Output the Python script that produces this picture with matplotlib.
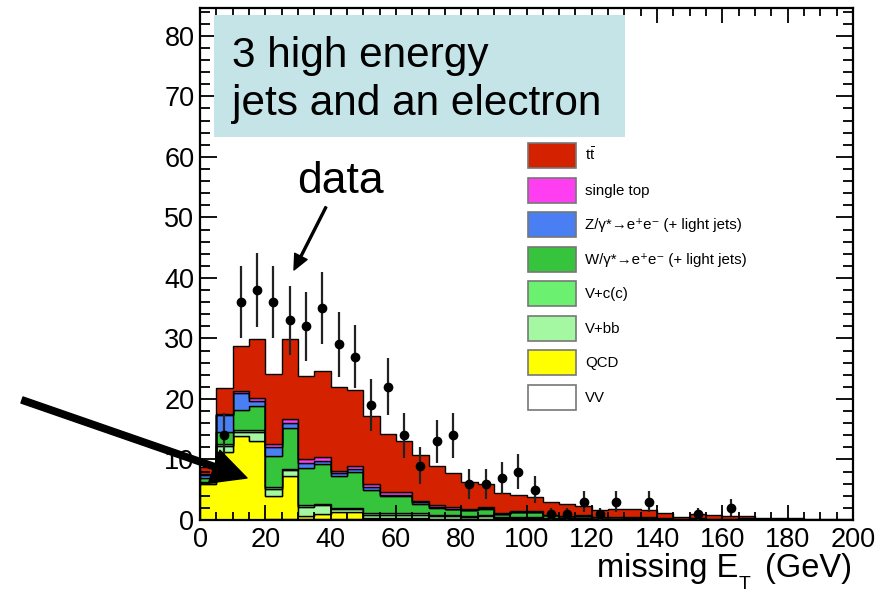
import numpy as np
import matplotlib
matplotlib.use("Agg")
import matplotlib.pyplot as plt
from matplotlib.patches import Patch, Rectangle, FancyArrowPatch, ArrowStyle
from matplotlib.ticker import MultipleLocator

plt.rcParams['font.family'] = ['Liberation Sans', 'DejaVu Sans']
plt.rcParams['mathtext.fontset'] = 'custom'
plt.rcParams['mathtext.rm'] = 'Liberation Sans'
plt.rcParams['mathtext.it'] = 'Liberation Sans:italic'

# missing E_T in 5 GeV bins from 0 to 200
bin_edges = np.arange(0, 205, 5)

# expected events per bin for each sample
vv = [0, 0, 0, 0, 0.1, 0.1, 0.2, 0.2, 0.2, 0.2,
      0.2, 0.2, 0.2, 0.1, 0.1, 0.1, 0.1, 0.1, 0.05, 0.05,
      0.05, 0, 0, 0, 0, 0, 0, 0, 0, 0,
      0, 0, 0, 0, 0, 0, 0, 0, 0, 0]
qcd = [6.0, 11.2, 13.8, 13.0, 3.9, 7.2, 0.4, 0.8, 1.1, 1.1,
       0.1, 0.1, 0.1, 0.3, 0, 0, 0, 0, 0, 0,
       0, 0, 0, 0, 0, 0, 0, 0, 0, 0,
       0, 0, 0, 0, 0, 0, 0, 0, 0, 0]
v_bb = [0.2, 1.0, 0.7, 1.5, 1.2, 1.0, 1.5, 1.5, 0.5, 0.5,
        0.6, 0.5, 0.6, 0.5, 0.5, 0.5, 0.4, 0.6, 0.3, 0.3,
        0.3, 0.2, 0.2, 0.2, 0.1, 0.1, 0.1, 0.1, 0.05, 0.05,
        0.05, 0.05, 0, 0, 0, 0, 0, 0, 0, 0]
v_cc = [0.1, 0.4, 0.3, 0.3, 0.3, 0.2, 0.3, 0.2, 0.2, 0.2,
        0.3, 0.3, 0.3, 0.2, 0.2, 0.2, 0.1, 0.1, 0.1, 0.1,
        0.1, 0.1, 0.05, 0.05, 0.05, 0.05, 0, 0, 0, 0,
        0, 0, 0, 0, 0, 0, 0, 0, 0, 0]
w_jets = [0.6, 1.9, 3.4, 4.0, 5.0, 6.7, 6.2, 6.5, 5.3, 6.0,
          3.8, 2.8, 2.7, 1.6, 1.2, 1.0, 1.0, 1.1, 0.5, 0.9,
          0.9, 0.5, 0.35, 0.4, 0.3, 0.3, 0.3, 0.3, 0.2, 0.1,
          0.2, 0.15, 0.1, 0.25, 0.1, 0.05, 0, 0, 0, 0]
z_jets = [0.6, 2.8, 2.8, 0.8, 1.5, 0.9, 0.8, 0.6, 0.4, 0.5,
          0.4, 0.3, 0.3, 0.2, 0.2, 0.1, 0.05, 0.05, 0.05, 0.05,
          0.05, 0, 0, 0, 0, 0, 0, 0, 0, 0,
          0, 0, 0, 0, 0, 0, 0, 0, 0, 0]
single_top = [0.1, 0.2, 0.3, 0.6, 0.5, 0.6, 0.6, 0.6, 0.4, 0.5,
              0.5, 0.5, 0.4, 0.3, 0.3, 0.3, 0.2, 0.2, 0.15, 0.15,
              0.1, 0.1, 0.1, 0.1, 0.05, 0.05, 0.05, 0.05, 0.05, 0,
              0, 0, 0, 0, 0, 0, 0, 0, 0, 0]
ttbar = [1.2, 4.3, 7.5, 9.7, 11.7, 13.2, 13.8, 14.2, 13.9, 12.5,
         11.3, 9.5, 8.4, 7.5, 6.5, 5.5, 4.5, 3.8, 3.25, 2.55,
         2.3, 2.1, 1.9, 1.5, 1.1, 1.25, 1.3, 1.2, 0.8, 0.4,
         0.75, 0.6, 0.5, 0.35, 0.3, 0.25, 0.3, 0.2, 0.15, 0.1]

# observed events per bin
data_counts = [0, 14, 36, 38, 36, 33, 32, 35, 29, 27,
               19, 22, 14, 9, 13, 14, 6, 6, 7, 8,
               5, 1, 1, 3, 1, 3, 0, 3, 0, 0,
               1, 0, 2, 0, 0, 0, 0, 0, 0, 0]

# stacked from the bottom up
samples = [
    ('VV', vv, '#ffffff'),
    ('QCD', qcd, '#ffff00'),
    ('V+bb', v_bb, '#a4f8a2'),
    ('V+c(c)', v_cc, '#6bf06f'),
    ('W/γ*→e⁺e⁻ (+ light jets)', w_jets, '#36c43c'),
    ('Z/γ*→e⁺e⁻ (+ light jets)', z_jets, '#4a7ff4'),
    ('single top', single_top, '#ff3ef2'),
    (r'$\mathrm{t\bar{t}}$', ttbar, '#d42200'),
]

W, H = 894, 594
fig = plt.figure(figsize=(W / 100, H / 100), dpi=100)
ax = fig.add_axes([200 / W, 74 / H, 653 / W, 512 / H])


def px(x, y):
    # pixel position (from top left) -> figure fraction
    return (x / W, 1 - y / H)


bottom = np.zeros(len(bin_edges) - 1)
for label, vals, color in samples:
    vals = np.asarray(vals, dtype=float)
    ax.stairs(bottom + vals, bin_edges, baseline=bottom.copy(), fill=True,
              facecolor=color, edgecolor='black', linewidth=1.0)
    bottom = bottom + vals

counts = np.asarray(data_counts, dtype=float)
centers = bin_edges[:-1] + 2.5
filled = counts > 0
ax.errorbar(centers[filled], counts[filled], yerr=np.sqrt(counts[filled]),
            fmt='o', color='black', ecolor='#222222', ms=6, elinewidth=1.6,
            capsize=0, zorder=5)

ax.set_xlim(0, 200)
ax.set_ylim(0, 84.6)
ax.xaxis.set_major_locator(MultipleLocator(20))
ax.xaxis.set_minor_locator(MultipleLocator(5))
ax.yaxis.set_major_locator(MultipleLocator(10))
ax.yaxis.set_minor_locator(MultipleLocator(2))
ax.tick_params(which='both', direction='in', top=True, right=True, width=1.3,
               labelsize=19.5)
ax.tick_params(axis='y', which='major', length=12, pad=4)
ax.tick_params(axis='y', which='minor', length=7)
ax.tick_params(axis='x', which='major', length=11, pad=5)
ax.tick_params(axis='x', which='minor', length=6)
for side in ax.spines.values():
    side.set_linewidth(1.6)

# axis title with a dropped subscript
fig.text(*px(852, 577), '(GeV)', fontsize=23.5, ha='right', va='baseline')
fig.text(*px(739, 589), 'T', fontsize=14, ha='left', va='baseline')
fig.text(*px(738, 577), 'missing E', fontsize=23.5, ha='right', va='baseline')

handles = [Patch(facecolor=c, edgecolor='#777777', linewidth=1.2)
           for _, _, c in samples[::-1]]
labels = [name for name, _, _ in samples[::-1]]
ax.legend(handles, labels, loc='upper left', bbox_to_anchor=px(528, 143),
          bbox_transform=fig.transFigure, frameon=False, fontsize=10.8,
          handlelength=3.2, handleheight=2.19, handletextpad=0.6,
          labelspacing=0.633, borderpad=0, borderaxespad=0)

# channel description box
fig.add_artist(Rectangle(px(214, 137), 411 / W, 122 / H,
                         transform=fig.transFigure, facecolor='#c4e4e7',
                         edgecolor='none', zorder=3))
fig.text(*px(232, 67), '3 high energy', fontsize=30.5, ha='left',
         va='baseline', zorder=4)
fig.text(*px(232, 115), 'jets and an electron', fontsize=30.5, ha='left',
         va='baseline', zorder=4)

fig.text(*px(340, 193), 'data', fontsize=32, ha='center', va='baseline')
fig.add_artist(FancyArrowPatch(px(326, 207), px(294, 270),
                               transform=fig.transFigure,
                               arrowstyle=ArrowStyle.Simple(head_length=11, head_width=10, tail_width=1.4),
                               color='black', shrinkA=0, shrinkB=0))
fig.add_artist(FancyArrowPatch(px(22, 400), px(247, 478),
                               transform=fig.transFigure,
                               arrowstyle=ArrowStyle.Simple(head_length=25, head_width=25, tail_width=4.6),
                               color='black', shrinkA=0, shrinkB=0, zorder=6))

fig.savefig('out.png', dpi=100)
